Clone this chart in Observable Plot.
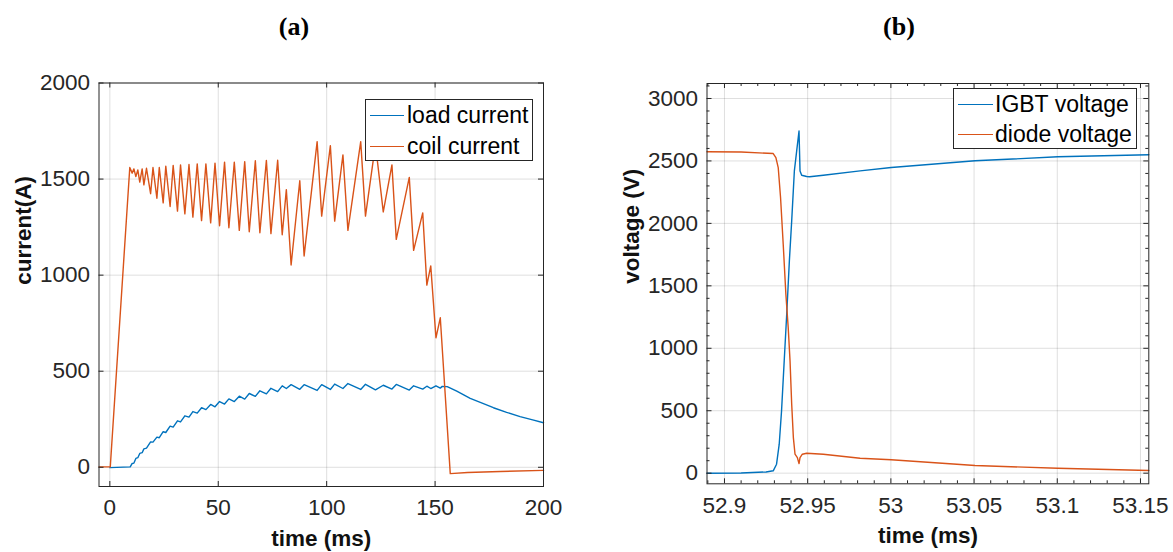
<!DOCTYPE html>
<html>
<head>
<meta charset="utf-8">
<script src="https://cdn.jsdelivr.net/npm/d3@7"></script>
<script src="https://cdn.jsdelivr.net/npm/@observablehq/plot@0.6"></script>
<style>
  html, body { margin: 0; padding: 0; background: #fff; }
  #wrap { position: relative; width: 1173px; height: 552px; background: #fff; font-family: 'Liberation Sans', Arial, sans-serif; overflow: hidden; }
  .title { position: absolute; transform: translate(-50%, -50%); font: bold 26px 'Liberation Serif', 'Times New Roman', serif; color: #000; }
  .legend { position: absolute; background: #fff; border: 1px solid #262626; box-sizing: border-box; }
  .swatch { position: absolute; height: 0; border-top: 1.4px solid; }
  .lab { position: absolute; font-size: 23px; color: #000; white-space: nowrap; transform: translateY(-52%); line-height: 1; }
  svg { overflow: visible; }
</style>
</head>
<body>
<div id="wrap">
  <div style="position:relative;height:50px;">
    <span class="title" style="left:294px;top:27px;">(a)</span>
    <span class="title" style="left:899px;top:27px;">(b)</span>
  </div>
  <div style="position:relative;height:502px;">
    <div id="chartA" style="position:absolute;left:0;top:0;"></div>
    <div id="chartB" style="position:absolute;left:586px;top:0;"></div>
  </div>
  <div class="legend" style="left:365px;top:99px;width:168px;height:62px;">
    <div class="swatch" style="left:4px;top:15px;width:34px;border-color:#0072BD;"></div>
    <div class="lab" style="left:41px;top:16px;">load current</div>
    <div class="swatch" style="left:4px;top:46px;width:34px;border-color:#D95319;"></div>
    <div class="lab" style="left:41px;top:47px;">coil current</div>
  </div>
  <div class="legend" style="left:953px;top:88px;width:184px;height:61px;">
    <div class="swatch" style="left:4px;top:15px;width:35px;border-color:#0072BD;"></div>
    <div class="lab" style="left:41px;top:16px;">IGBT voltage</div>
    <div class="swatch" style="left:4px;top:45px;width:35px;border-color:#D95319;"></div>
    <div class="lab" style="left:41px;top:46px;">diode voltage</div>
  </div>
</div>
<script>
// ---------- Panel (a) data: time (ms) vs current (A) ----------
const coilT = [-5, 0.2, 9.2, 10.3, 11.1, 12.0, 12.9, 13.8, 14.9, 15.7, 16.9, 18.8, 19.9, 21.7, 22.8, 24.6, 25.8, 27.8, 29.2, 31.2, 32.6, 34.6, 36.5, 38.3, 40.3, 42.3, 44.3, 46.5, 48.5, 50.6, 52.9, 54.9, 57.4, 59.7, 62.2, 64.3, 67.1, 69.2, 72.2, 74.3, 77.4, 79.5, 81.4, 83.6, 87.6, 89.6, 95.6, 97.7, 101.7, 103.7, 107.5, 109.8, 115.7, 117.9, 122.5, 126.1, 130.1, 132.1, 138.1, 140.1, 144.3, 146.2, 148.0, 150.4, 152.4, 157.0, 165, 180, 200];
const coilA = [2, 2, 1560, 1531, 1553, 1513, 1548, 1484, 1553, 1470, 1556, 1424, 1560, 1400, 1560, 1376, 1567, 1357, 1571, 1333, 1574, 1319, 1576, 1302, 1579, 1284, 1579, 1272, 1583, 1257, 1588, 1247, 1588, 1233, 1591, 1226, 1595, 1221, 1597, 1216, 1598, 1210, 1445, 1053, 1491, 1100, 1695, 1307, 1674, 1281, 1626, 1233, 1695, 1307, 1681, 1329, 1574, 1186, 1509, 1129, 1324, 948, 1048, 674, 778, -33, -27, -22, -16];

const loadT = [0, 9.4, 10.3, 11.1, 12.0, 12.9, 13.8, 14.9, 15.7, 16.9, 18.8, 19.9, 21.7, 22.8, 24.6, 25.8, 27.8, 29.2, 31.2, 32.6, 34.6, 36.5, 38.3, 40.3, 42.3, 44.3, 46.5, 48.5, 50.6, 52.9, 54.9, 57.4, 59.7, 62.2, 64.3, 67.1, 69.2, 72.2, 74.3, 77.4, 79.5, 81.4, 83.6, 87.6, 89.6, 95.6, 97.7, 101.7, 103.7, 107.5, 109.8, 115.7, 117.9, 122.5, 126.1, 130.1, 132.1, 138.1, 140.1, 144.3, 146.2, 148.0, 150.4, 152.4, 153.3, 155.6, 160, 166.2, 172, 176.9, 183, 189.2, 195, 200];
const loadA = [-2, 2, 20, 22, 46, 50, 72, 76, 96, 100, 132, 131, 157, 154, 185, 181, 214, 209, 242, 236, 268, 261, 290, 282, 310, 300, 327, 315, 342, 329, 356, 342, 370, 355, 384, 369, 398, 382, 411, 394, 424, 410, 430, 406, 430, 400, 430, 405, 433, 410, 436, 405, 432, 403, 427, 407, 431, 402, 424, 407, 422, 410, 424, 412, 421, 420, 396, 359, 333, 310, 286, 264, 247, 232];

const xTicksA = [0, 50, 100, 150, 200];
const yTicksA = [0, 500, 1000, 1500, 2000];

// ---------- Panel (b) data: time (ms) vs voltage (V) ----------
const igbtT = [52.8895, 52.91, 52.925, 52.9293, 52.9313, 52.9329, 52.9343, 52.9359, 52.9373, 52.9390, 52.9404, 52.9420, 52.9434, 52.9448, 52.9454, 52.9464, 52.9494, 52.9512, 52.9594, 52.9815, 53.0002, 53.0506, 53.1003, 53.155];
const igbtV = [0, 2, 10, 19, 72, 232, 499, 899, 1246, 1700, 2020, 2420, 2580, 2740, 2420, 2385, 2375, 2373, 2385, 2420, 2448, 2501, 2533, 2549];

const diodeT = [52.8895, 52.91, 52.9293, 52.9309, 52.9323, 52.9337, 52.9353, 52.9369, 52.9383, 52.9394, 52.9404, 52.9414, 52.9424, 52.9438, 52.9448, 52.9454, 52.9468, 52.9494, 52.9594, 52.9815, 53.0002, 53.0506, 53.1003, 53.155];
const diodeV = [2573, 2572, 2559, 2527, 2447, 2207, 1833, 1433, 1166, 899, 552, 285, 152, 125, 77, 125, 152, 160, 152, 120, 107, 61, 40, 21];

const xTicksB = [52.9, 52.95, 53, 53.05, 53.1, 53.15];
const yTicksB = [0, 500, 1000, 1500, 2000, 2500, 3000];

// ---------- helpers ----------
const BLUE = "#0072BD", ORANGE = "#D95319", AX = "#262626";
const zip = (ts, vs) => ts.map((t, i) => ({t, v: vs[i]}));
const fmt = d => String(+d.toFixed(4));

function boxTicks(xt, yt, W, H, len) {
  return [
    Plot.ruleX(xt, {x: d => d, insetTop: H - len, stroke: AX, strokeWidth: 1}),
    Plot.ruleX(xt, {x: d => d, insetBottom: H - len, stroke: AX, strokeWidth: 1}),
    Plot.ruleY(yt, {y: d => d, insetRight: W - len, stroke: AX, strokeWidth: 1}),
    Plot.ruleY(yt, {y: d => d, insetLeft: W - len, stroke: AX, strokeWidth: 1})
  ];
}

function panel(o) {
  const W = o.width - o.ml - o.mr, H = o.height - o.mt - o.mb;
  return Plot.plot({
    width: o.width, height: o.height,
    marginLeft: o.ml, marginRight: o.mr, marginTop: o.mt, marginBottom: o.mb,
    style: {fontFamily: "'Liberation Sans', Arial, sans-serif", fontSize: "22px", color: AX, background: "transparent", overflow: "visible"},
    x: {domain: o.xd},
    y: {domain: o.yd},
    marks: [
      Plot.gridX(o.xt, {stroke: AX, strokeOpacity: 0.15, strokeWidth: 1}),
      Plot.gridY(o.yt, {stroke: AX, strokeOpacity: 0.15, strokeWidth: 1}),
      ...o.lines.map(l => Plot.line(l.data, {x: "t", y: "v", stroke: l.color, strokeWidth: 1.4, strokeLinejoin: "round"})),
      Plot.frame({stroke: AX, strokeWidth: 1}),
      ...boxTicks(o.xt, o.yt, W, H, 5),
      ...(o.minorX ? boxTicks(o.minorX, o.minorY, W, H, 3) : []),
      Plot.axisX(o.xt, {tickSize: 0, tickPadding: 13, label: null, tickFormat: fmt, fontSize: 22.5, fill: AX}),
      Plot.axisY(o.yt, {tickSize: 0, tickPadding: 9, label: null, tickFormat: fmt, fontSize: 22.5, fill: AX}),
      Plot.text([o.xlabel], {frameAnchor: "bottom", dy: 59, fontWeight: "bold", fontSize: 22.5, fill: "#111"}),
      Plot.text([o.ylabel], {frameAnchor: "left", dx: -75, rotate: -90, fontWeight: "bold", fontSize: 22.5, fill: "#111"})
    ]
  });
}

const chartA = panel({
  width: 586, height: 502, ml: 98.5, mr: 43, mt: 32.5, mb: 66,
  xd: [-5, 200], yd: [-100, 2000], xt: xTicksA, yt: yTicksA,
  lines: [{data: zip(loadT, loadA), color: BLUE}, {data: zip(coilT, coilA), color: ORANGE}],
  xlabel: "time (ms)", ylabel: "current(A)"
});
document.getElementById("chartA").append(chartA);

const minorXB = d3.range(52.89, 53.1551, 0.01).map(d => +d.toFixed(2)).filter(d => !xTicksB.some(m => Math.abs(m - d) < 1e-6));
const minorYB = d3.range(0, 3101, 100).filter(d => d % 500 !== 0);

const chartB = panel({
  width: 587, height: 502, ml: 120.5, mr: 24.7, mt: 33, mb: 68.7,
  xd: [52.8895, 53.155], yd: [-85, 3120], xt: xTicksB, yt: yTicksB,
  minorX: minorXB, minorY: minorYB,
  lines: [{data: zip(igbtT, igbtV), color: BLUE}, {data: zip(diodeT, diodeV), color: ORANGE}],
  xlabel: "time (ms)", ylabel: "voltage (V)"
});
document.getElementById("chartB").append(chartB);
</script>
</body>
</html>
